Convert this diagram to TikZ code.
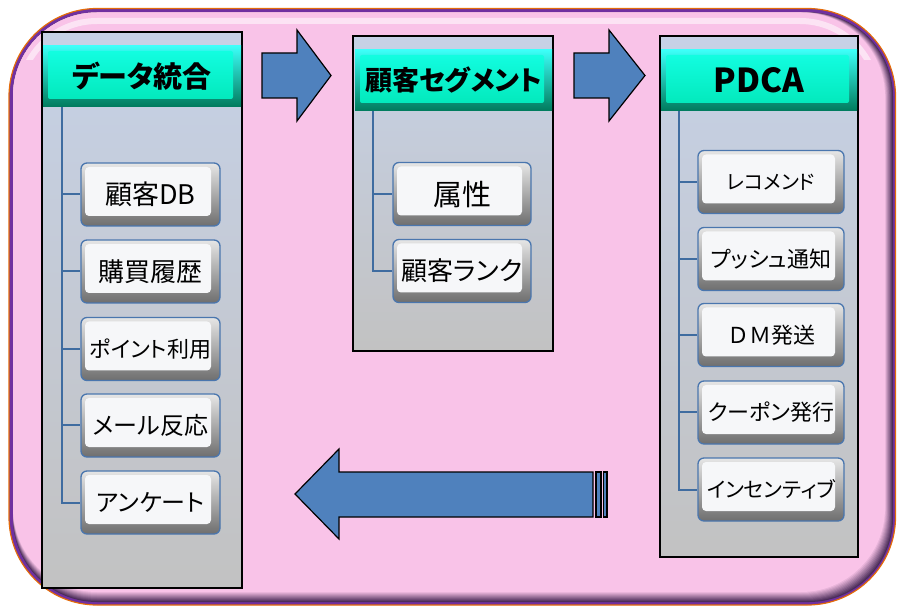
\documentclass[tikz,border=0pt]{standalone}
\usepackage{fontspec}
\newfontfamily\jp[RawFeature=+palt]{Noto Sans CJK JP}
\newfontfamily\jpw{Noto Sans CJK JP}
\newcommand\fsz[1]{\fontsize{#1}{#1}\selectfont}
\definecolor{pinkbg}{HTML}{F9C3E8}
\definecolor{darkedge}{HTML}{4A2C58}
\definecolor{framepurple}{HTML}{7030A0}
\definecolor{frameorange}{HTML}{E46C0A}
\definecolor{paneltop}{HTML}{C6D1E6}
\definecolor{panelbot}{HTML}{C2C2C2}
\definecolor{hdrhi}{HTML}{3CFFF8}
\definecolor{hdrlo}{HTML}{007A5C}
\definecolor{facehi}{HTML}{14FFE4}
\definecolor{facelo}{HTML}{00E6B6}
\definecolor{boxblue}{HTML}{4A76AE}
\definecolor{itemhi}{HTML}{E6E6E6}
\definecolor{itemlo}{HTML}{6E6E6E}
\definecolor{itemface}{HTML}{F6F7F9}
\definecolor{arrowblue}{HTML}{4F81BD}
\definecolor{connblue}{HTML}{3F6CA0}
\begin{document}
\begin{tikzpicture}[x=1pt,y=-1pt,
  panel/.style={rectangle,draw=black,line width=1.3pt,top color=paneltop,bottom color=panelbot,inner sep=0pt},
  hdr/.style={rectangle,inner sep=0pt,top color=hdrhi,bottom color=hdrlo,minimum height=61pt,
    path picture={\shade[top color=facehi,bottom color=facelo,rounded corners=2pt]
      ([xshift=5pt,yshift=-5pt]path picture bounding box.north west) rectangle
      ([xshift=-8pt,yshift=8pt]path picture bounding box.south east);}},
  item/.style={rectangle,rounded corners=6pt,draw=boxblue,line width=1.3pt,inner sep=0pt,
    top color=itemhi,bottom color=itemlo,minimum height=63pt,
    path picture={\fill[itemface,rounded corners=4pt]
      ([xshift=4pt,yshift=-4pt]path picture bounding box.north west) rectangle
      ([xshift=-9pt,yshift=10pt]path picture bounding box.south east);}},
  itemL/.style={item,minimum width=139pt},
  itemM/.style={item,minimum width=138pt},
  itemR/.style={item,minimum width=146pt},
  conn/.style={draw=connblue,line width=2pt},
  blockarrow/.style={fill=arrowblue,draw=black,line width=1.2pt,line join=miter}
]
\useasboundingbox (0,0) rectangle (897,609);
% outer frame
\draw[frameorange,line width=1.2pt,fill=framepurple,rounded corners=88pt] (9,8.5) rectangle (895.5,605);
\foreach \i in {0,...,10}{
  \pgfmathsetmacro\p{\i*10}
  \fill[pinkbg!\p!darkedge,rounded corners=84pt] (13,12.5) rectangle ({893-\i*0.8},{602-\i});
}
\begin{scope}
  \clip (0,0) rectangle (897,60);
  \draw[white,opacity=0.55,line width=6pt,rounded corners=78pt] (19,200) -- (19,21) -- (878,21) -- (878,200);
\end{scope}

% panels
\node[panel,minimum width=200pt,minimum height=556pt] (p1) at (142,310) {};
\node[panel,minimum width=200pt,minimum height=315pt] (p2) at (453,193.5) {};
\node[panel,minimum width=198pt,minimum height=521pt] (p3) at (759,296.5) {};

% headers
\node[hdr,minimum width=198pt,font={\jp\bfseries\fsz{29}}] (h1) at (142,76.5) {データ統合};
\node[hdr,minimum width=197pt,font={\jp\bfseries\fsz{27}}] (h2) at (453.5,80.5) {顧客セグメント};
\node[hdr,minimum width=196pt,font={\jp\bfseries\fsz{33}}] (h3) at (759,80.5) {PDCA};

% items left
\node[itemL,font={\jp\fsz{27}}] (a1) at (150.5,194.5) {顧客DB};
\node[itemL,font={\jp\fsz{26}}] (a2) at (150.5,271.5) {購買履歴};
\node[itemL,font={\jp\fsz{22}}] (a3) at (150.5,349) {ポイント利用};
\node[itemL,font={\jp\fsz{24}}] (a4) at (150.5,425.5) {メール反応};
\node[itemL,font={\jp\fsz{24}}] (a5) at (150.5,502.5) {アンケート};
% items middle
\node[itemM,font={\jp\fsz{29}}] (b1) at (462,194) {属性};
\node[itemM,font={\jp\fsz{26}}] (b2) at (462,271) {顧客ランク};
% items right
\node[itemR,font={\jp\fsz{20}}] (c1) at (771,182) {レコメンド};
\node[itemR,font={\jp\fsz{22}}] (c2) at (771,259) {プッシュ通知};
\node[itemR,font={\jpw\fsz{22}}] (c3) at (771,335) {ＤＭ発送};
\node[itemR,font={\jp\fsz{22}}] (c4) at (771,412.5) {クーポン発行};
\node[itemR,font={\jp\fsz{21}}] (c5) at (771,489.5) {インセンティブ};

% connectors
\coordinate (l1) at (62,107);
\coordinate (l2) at (373,111);
\coordinate (l3) at (679,111);
\foreach \n in {a1,a2,a3,a4,a5}{\draw[conn] (l1) |- (\n.west);}
\foreach \n in {b1,b2}{\draw[conn] (l2) |- (\n.west);}
\foreach \n in {c1,c2,c3,c4,c5}{\draw[conn] (l3) |- (\n.west);}

% block arrows
\draw[blockarrow] (262,53) -- (297,53) -- (297,30) -- (331,75.5) -- (297,121) -- (297,98) -- (262,98) -- cycle;
\draw[blockarrow] (574,53) -- (609,53) -- (609,30) -- (645,75.5) -- (609,121) -- (609,98) -- (574,98) -- cycle;
\draw[blockarrow] (593,472) -- (339,472) -- (339,449) -- (295,494) -- (339,539) -- (339,517) -- (593,517) -- cycle;
\draw[blockarrow] (596,472) rectangle (601,517);
\draw[blockarrow] (603.5,472) rectangle (607,517);
\end{tikzpicture}
\end{document}
